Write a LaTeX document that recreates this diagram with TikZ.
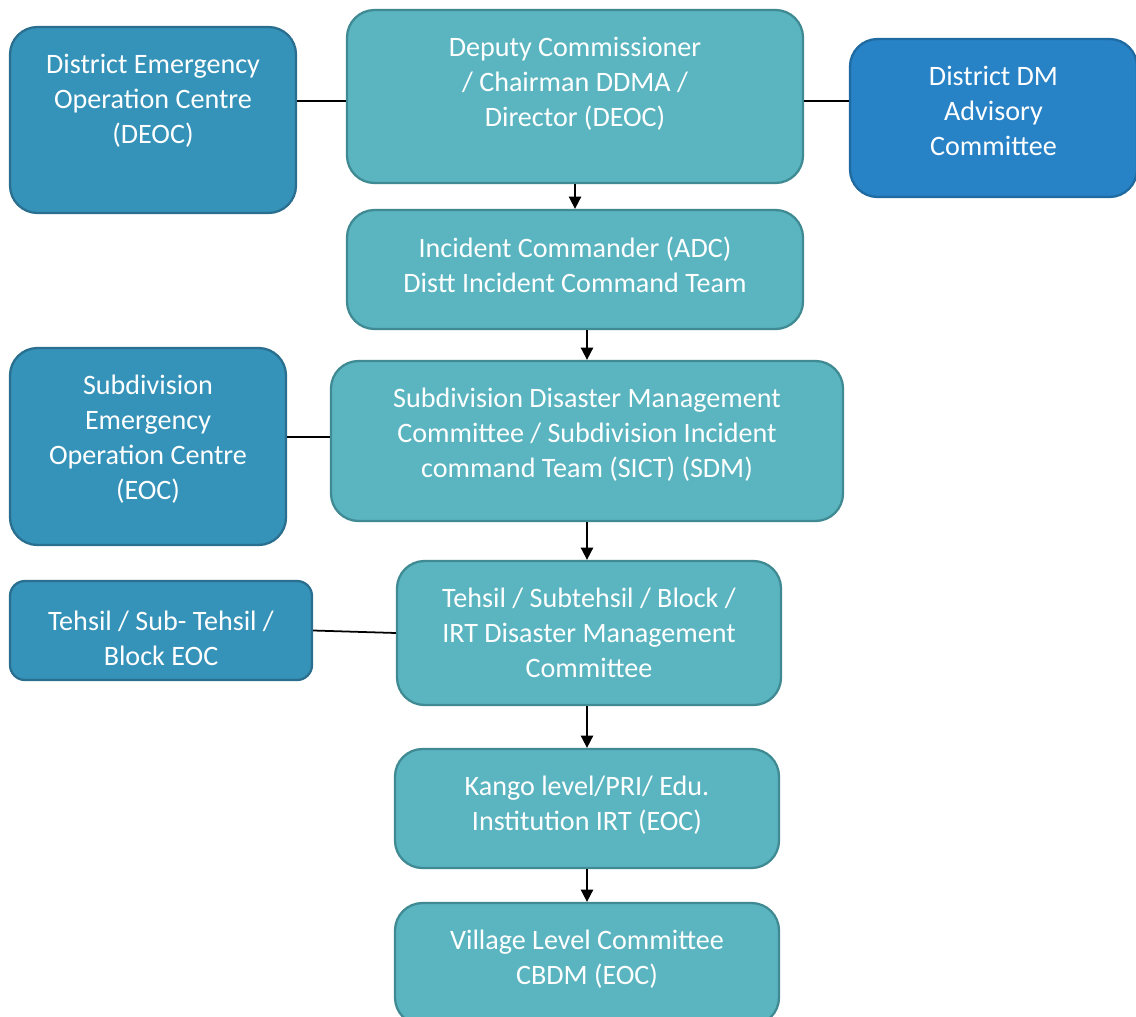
\documentclass[tikz,border=0pt]{standalone}
\usepackage{fontspec}
\setmainfont{Carlito}
\usetikzlibrary{arrows.meta}
\usetikzlibrary{positioning}
\definecolor{tealfill}{HTML}{5AB5C0}
\definecolor{tealedge}{HTML}{3F8A93}
\definecolor{deepfill}{HTML}{3592B8}
\definecolor{deepedge}{HTML}{2A6F8F}
\definecolor{bluefill}{HTML}{2882C6}
\definecolor{blueedge}{HTML}{1F6AA0}
\tikzset{box/.style = {rectangle, rounded corners = 0.55cm, line width = 1.3pt, inner sep = 0}}
\tikzset{tealbox/.style = {box, fill = tealfill, draw = tealedge}}
\tikzset{deepbox/.style = {box, fill = deepfill, draw = deepedge}}
\tikzset{bluebox/.style = {box, fill = bluefill, draw = blueedge}}
\tikzset{txt/.style = {anchor = north, yshift = -0.56cm, inner sep = 0, align = center, text = white, font = \fontsize{16}{19.9}\selectfont}}
\tikzset{arr/.style = {line width = 1pt, -{Triangle[width = 7pt, length = 7pt]}}}
\tikzset{link/.style = {line width = 1pt}}

\begin{document}
\begin{tikzpicture}
    \useasboundingbox (0, 0) rectangle (22.72, -20.32);
    % top row
    \node [deepbox, minimum width = 5.72cm, minimum height = 3.72cm,
      label = {[txt]north:District Emergency\\Operation Centre\\(DEOC)}] (deoc) at (3.06, -2.40) {};
    \node [tealbox, minimum width = 9.12cm, minimum height = 3.46cm,
      label = {[txt]north:Deputy Commissioner\\/ Chairman DDMA /\\Director (DEOC)}] (dc) at (11.5, -1.93) {};
    \node [bluebox, minimum width = 5.74cm, minimum height = 3.16cm,
      label = {[txt]north:District DM\\Advisory\\Committee}] (adv) at (19.87, -2.36) {};
    \node [tealbox, minimum width = 9.12cm, minimum height = 2.38cm,
      label = {[txt]north:Incident Commander (ADC)\\Distt Incident Command Team}] (ic) at (11.5, -5.39) {};
    % subdivision
    \node [deepbox, minimum width = 5.52cm, minimum height = 3.94cm,
      label = {[txt]north:Subdivision\\Emergency\\Operation Centre\\(EOC)}] (seoc) at (2.96, -8.93) {};
    \node [tealbox, minimum width = 10.24cm, minimum height = 3.2cm,
      label = {[txt]north:Subdivision Disaster Management\\Committee / Subdivision Incident\\command Team (SICT) (SDM)}] (sdmc) at (11.74, -8.82) {};
    % tehsil
    \node [deepbox, rounded corners = 0.3cm, minimum width = 6.04cm, minimum height = 1.98cm,
      label = {[txt, yshift = -0.05cm]north:Tehsil / Sub- Tehsil /\\Block EOC}] (teoc) at (3.22, -12.61) {};
    \node [tealbox, minimum width = 7.68cm, minimum height = 2.88cm,
      label = {[txt]north:Tehsil / Subtehsil / Block /\\IRT Disaster Management\\Committee}] (tdmc) at (11.78, -12.66) {};
    % lower levels
    \node [tealbox, minimum width = 7.68cm, minimum height = 2.38cm,
      label = {[txt]north:Kango level/PRI/ Edu.\\Institution IRT (EOC)}] (kango) at (11.74, -16.17) {};
    \node [tealbox, minimum width = 7.68cm, minimum height = 2.44cm,
      label = {[txt]north:Village Level Committee\\CBDM (EOC)}] (village) at (11.74, -19.28) {};
    % connectors
    \draw [link] (dc.west |- 0, -2.02) -- (deoc.east |- 0, -2.02);
    \draw [link] (dc.east |- 0, -2.02) -- (adv.west |- 0, -2.02);
    \draw [link] (sdmc.west |- 0, -8.74) -- (seoc.east |- 0, -8.74);
    \draw [link] (teoc.east) -- (tdmc.west);
    \draw [arr] (dc.south) -- (ic.north);
    \draw [arr] (ic.south -| sdmc.north) -- (sdmc.north);
    \draw [arr] (sdmc.south) -- (sdmc.south |- tdmc.north);
    \draw [arr] (tdmc.south -| kango.north) -- (kango.north);
    \draw [arr] (kango.south) -- (village.north);
  \end{tikzpicture}
\end{document}
